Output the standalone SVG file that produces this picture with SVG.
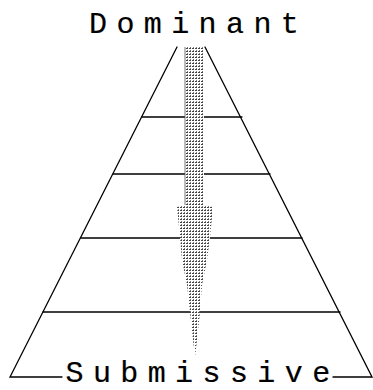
<svg xmlns="http://www.w3.org/2000/svg" width="373" height="390" viewBox="0 0 373 390">
  <style>
    .ln { stroke: #000; stroke-width: 1.3; fill: none; stroke-linecap: round; }
    .lbl { font-family: "Liberation Mono", "Courier New", monospace; font-size: 30px; fill: #000; stroke: #000; stroke-width: 0.2; }
  </style>
  <defs>
    <pattern id="stip" width="3" height="3" patternUnits="userSpaceOnUse">
      <rect width="3" height="3" fill="#fff"/>
      <rect x="0" y="0" width="2" height="1" fill="#444"/>
      <rect x="1" y="2" width="1" height="1" fill="#777"/>
    </pattern>
  </defs>
  <rect width="373" height="390" fill="#fff"/>
  <g id="pyramid">
    <path class="ln" d="M177,47 L10,377 L62,377"/>
    <path class="ln" d="M205,47 L372,377 L333,377"/>
    <line class="ln" x1="142" y1="117" x2="242" y2="117"/>
    <line class="ln" x1="113" y1="174" x2="270" y2="174"/>
    <line class="ln" x1="81" y1="238" x2="302" y2="238"/>
    <line class="ln" x1="43" y1="312" x2="340" y2="312"/>
  </g>
  <g id="arrow">
    <path d="M185,47 L204,47 L204,205 L213,207 L210,237 L207,260 L202,285 L200,312 L197,340 L195,357 L193,340 L190,312 L187,285 L182,260 L180,237 L177,207 L185,205 Z" fill="url(#stip)"/>
    <line x1="185" y1="47" x2="185" y2="205" stroke="#555" stroke-width="0.8"/>
  </g>
  <g id="label-dominant">
    <text class="lbl" x="89" y="33" letter-spacing="9.4">Dominant</text>
  </g>
  <g id="label-submissive">
    <text class="lbl" x="65.5" y="382" letter-spacing="9.4">Submissive</text>
  </g>
</svg>
